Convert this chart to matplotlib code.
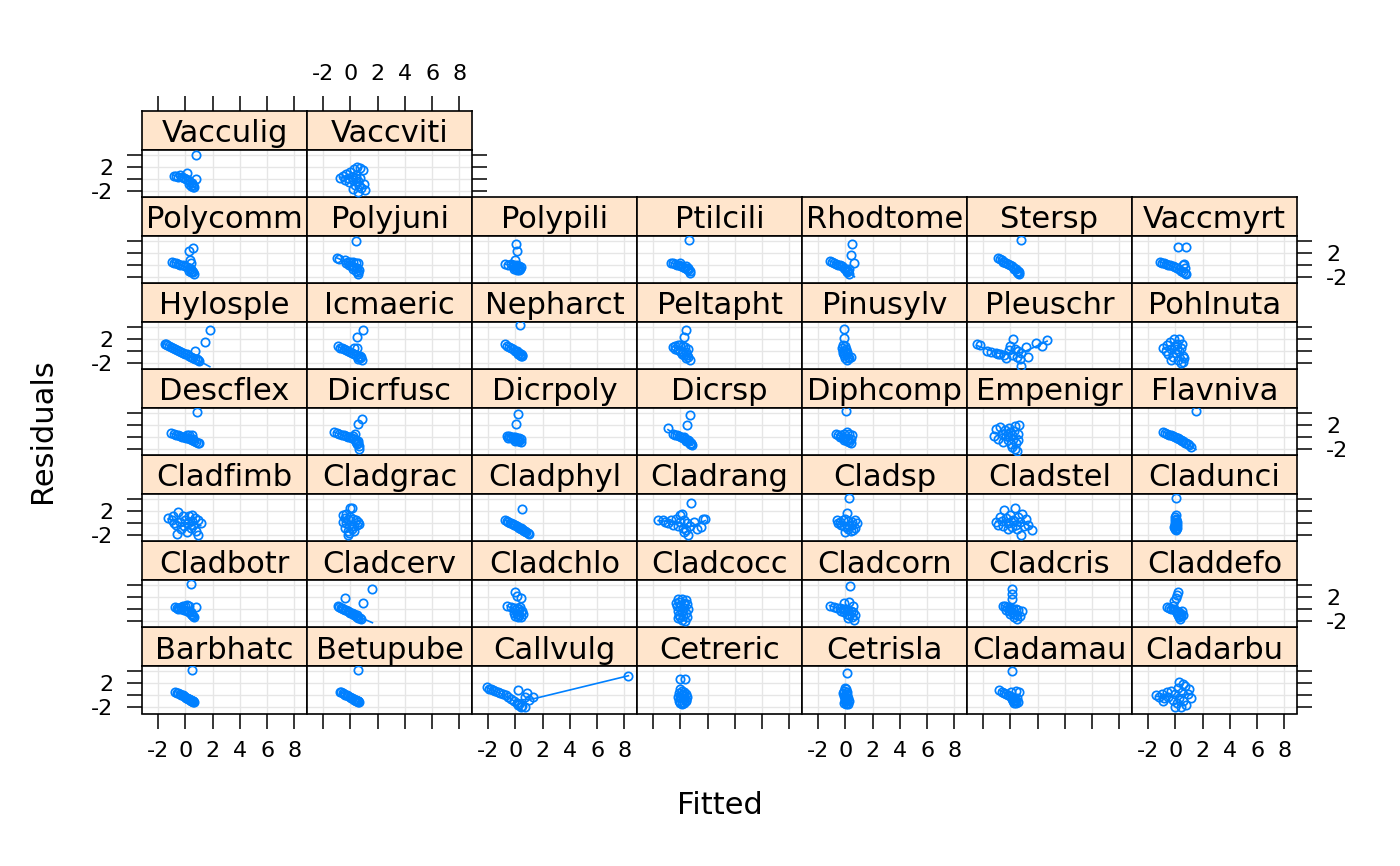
import numpy as np
import matplotlib
matplotlib.use("Agg")
import matplotlib.pyplot as plt

plt.rcParams['font.family'] = ['DejaVu Sans']

# ---------------- data (fitted, residual) per species ----------------
SPECIES = ["Barbhatc", "Betupube", "Callvulg", "Cetreric", "Cetrisla", "Cladamau", "Cladarbu",
           "Cladbotr", "Cladcerv", "Cladchlo", "Cladcocc", "Cladcorn", "Cladcris", "Claddefo",
           "Cladfimb", "Cladgrac", "Cladphyl", "Cladrang", "Cladsp", "Cladstel", "Cladunci",
           "Descflex", "Dicrfusc", "Dicrpoly", "Dicrsp", "Diphcomp", "Empenigr", "Flavniva",
           "Hylosple", "Icmaeric", "Nepharct", "Peltapht", "Pinusylv", "Pleuschr", "Pohlnuta",
           "Polycomm", "Polyjuni", "Polypili", "Ptilcili", "Rhodtome", "Stersp", "Vaccmyrt",
           "Vacculig", "Vaccviti"]

BARBHATC = [(-0.72,0.6),(-0.6,0.48),(-0.5,0.38),(-0.4,0.25),(-0.3,0.12),(-0.2,0.0),(-0.1,-0.12),(0.0,-0.25),(0.08,-0.35),(0.15,-0.45),(0.22,-0.55),(0.3,-0.65),(0.36,-0.75),(0.42,-0.82),(0.48,-0.9),(0.54,-0.98),(0.6,-1.05),(0.64,-1.1),(0.25,-0.62),(0.4,-0.88),(0.5,-1.0),(0.58,-0.95),(0.5,4.3)]
BETUPUBE = [(-0.77,0.64),(-0.65,0.5),(-0.55,0.4),(-0.45,0.28),(-0.35,0.15),(-0.25,0.02),(-0.15,-0.1),(-0.05,-0.22),(0.05,-0.35),(0.15,-0.48),(0.25,-0.6),(0.32,-0.7),(0.4,-0.8),(0.47,-0.9),(0.54,-1.0),(0.6,-1.08),(0.64,-1.14),(0.3,-0.75),(0.45,-0.95),(0.55,-0.85),(0.6,-1.0),(0.56,4.3)]
CALLVULG = [(-2.1,1.35),(-1.95,1.15),(-1.8,1.0),(-1.6,0.85),(-1.45,0.7),(-1.3,0.55),(-1.1,0.4),(-0.9,0.2),(-0.7,0.0),(-0.5,-0.3),(-0.3,-0.6),(-0.1,-0.9),(0.1,-1.2),(0.3,-1.5),(0.5,-1.7),(0.7,-1.95),(0.45,-2.0),(0.2,-1.6),(0.22,0.87),(0.83,0.47),(0.7,-0.2),(1.33,-0.28),(1.0,-0.8),(8.29,3.28)]
CETRERIC = [(0.0,2.77),(0.33,2.77),(-0.05,1.0),(0.1,0.8),(0.3,0.6),(0.45,0.3),(-0.1,0.4),(0.1,0.1),(0.3,-0.1),(0.5,-0.2),(-0.15,-0.3),(0.05,-0.5),(0.25,-0.6),(0.4,-0.8),(-0.1,-0.9),(0.1,-1.1),(0.3,-1.3),(0.15,-1.5),(0.0,-0.2),(0.2,0.3),(0.4,-1.0),(-0.05,-1.3)]
CETRISLA = [(0.1,3.8),(-0.05,1.2),(0.05,1.0),(-0.1,0.8),(0.1,0.6),(-0.15,0.4),(0.05,0.2),(0.15,0.0),(-0.1,-0.1),(0.0,-0.3),(0.2,-0.4),(-0.05,-0.6),(0.1,-0.8),(0.25,-0.9),(0.0,-1.0),(0.15,-1.2),(0.05,-1.4),(0.2,-1.5),(-0.1,-1.2),(0.1,-0.5)]
CLADAMAU = [(0.13,4.03),(-0.81,0.87),(-0.6,0.6),(-0.45,0.45),(-0.3,0.3),(-0.15,0.1),(0.0,-0.1),(0.15,-0.3),(0.25,-0.5),(0.35,-0.7),(0.45,-0.9),(0.55,-1.1),(0.4,-1.3),(0.2,-1.0),(0.1,-0.6),(0.66,0.64),(0.45,0.7),(0.05,0.6),(0.3,-1.2),(0.5,-0.4)]
CLADARBU = [(-1.43,0.0),(-1.2,-0.3),(-1.0,0.2),(-0.8,-0.5),(-0.6,0.5),(-0.5,-0.2),(-0.3,0.8),(-0.2,-0.8),(0.0,0.3),(0.1,-1.3),(0.2,1.2),(0.3,-0.5),(0.4,-1.9),(0.5,0.6),(0.6,-1.0),(0.7,1.6),(0.8,-1.6),(0.9,0.2),(1.0,1.0),(1.14,-0.4),(0.3,2.19),(0.0,-2.0),(-0.9,-0.9),(0.6,1.9)]
CLADBOTR = [(0.44,4.24),(-0.77,0.35),(-0.6,0.3),(-0.45,0.25),(-0.3,0.4),(-0.15,0.5),(0.0,0.6),(0.14,0.8),(0.25,0.5),(0.81,0.46),(-0.5,0.1),(-0.3,0.0),(-0.1,-0.1),(0.1,-0.3),(0.25,-0.5),(0.4,-0.7),(0.5,-0.9),(0.6,-1.1),(0.64,-1.3),(0.3,-0.2),(0.45,-0.4)]
CLADCERV = [(-0.35,1.91),(1.62,3.46),(0.96,1.08),(-0.9,0.52),(-0.8,0.4),(-0.7,0.3),(-0.6,0.2),(-0.5,0.1),(-0.4,-0.05),(-0.3,-0.15),(-0.2,-0.3),(-0.1,-0.4),(0.0,-0.55),(0.1,-0.65),(0.2,-0.8),(0.3,-0.9),(0.4,-1.05),(0.5,-1.2),(0.6,-1.35),(0.7,-1.5),(0.76,-1.59),(0.5,-1.0),(0.3,-0.7)]
CLADCHLO = [(-0.05,2.85),(0.14,2.3),(0.39,1.91),(-0.6,0.52),(-0.3,0.4),(-0.1,0.3),(0.1,0.2),(0.3,0.0),(0.5,-0.2),(0.0,-0.1),(0.2,-0.3),(0.4,-0.5),(-0.1,-0.6),(0.1,-0.8),(0.3,-1.0),(0.45,-1.2),(0.2,-1.3),(0.0,-1.1),(0.35,0.35),(0.55,-0.8)]
CLADCOCC = [(-0.2,1.74),(0.1,1.7),(0.4,1.6),(-0.1,1.3),(0.3,1.1),(0.5,0.9),(-0.25,0.6),(0.0,0.4),(0.3,0.2),(0.55,0.0),(-0.2,-0.2),(0.1,-0.4),(0.4,-0.6),(-0.1,-0.9),(0.2,-1.1),(0.5,-1.3),(-0.15,-1.5),(0.1,-1.7),(0.35,-1.87),(0.0,-1.2),(0.25,0.9),(-0.3,1.0)]
CLADCORN = [(0.35,3.85),(-1.15,0.63),(-0.12,1.0),(0.25,1.2),(0.57,0.63),(-0.84,0.4),(-0.6,0.3),(-0.4,0.2),(-0.2,0.1),(0.0,0.0),(0.2,-0.1),(0.4,-0.3),(0.6,-0.5),(-0.3,-0.3),(-0.1,-0.5),(0.1,-0.7),(0.3,-0.9),(0.5,-1.2),(0.63,-1.7),(0.2,-1.4),(0.73,-0.9)]
CLADCRIS = [(0.1,3.41),(0.13,2.58),(0.1,1.74),(-0.56,0.63),(-0.4,0.5),(-0.25,0.4),(-0.1,0.3),(0.05,0.2),(0.2,0.1),(0.4,0.0),(0.6,-0.1),(0.85,-0.3),(-0.3,-0.1),(-0.1,-0.3),(0.1,-0.5),(0.3,-0.7),(0.5,-0.9),(0.7,-1.1),(0.3,-1.3),(0.5,-1.6),(0.0,-0.8)]
CLADDEFO = [(0.2,2.85),(0.12,2.4),(0.05,1.9),(-0.1,1.4),(-0.59,0.35),(-0.45,0.2),(-0.3,0.1),(-0.15,0.0),(0.0,-0.1),(0.15,-0.3),(0.3,-0.5),(0.45,-0.7),(0.55,-0.9),(0.4,-1.1),(0.3,-1.3),(0.35,-1.6),(0.1,-0.6),(0.2,-1.0),(0.5,-0.3),(-0.2,0.6)]
CLADFIMB = [(-1.26,0.89),(-1.0,0.5),(-0.9,1.2),(-0.7,-0.3),(-0.6,-1.7),(-0.5,1.88),(-0.4,0.3),(-0.3,-1.0),(-0.2,1.2),(-0.1,-0.5),(0.0,0.6),(0.1,-1.5),(0.2,0.0),(0.3,1.3),(0.4,-0.8),(0.5,0.4),(0.52,1.33),(0.6,-0.3),(0.7,0.9),(0.8,-1.2),(0.9,0.5),(0.96,-1.87),(1.13,0.0),(-0.8,0.0)]
CLADGRAC = [(-0.05,2.55),(0.12,2.5),(-0.55,1.33),(-0.3,1.6),(-0.4,0.9),(-0.2,0.7),(0.0,1.1),(0.2,0.8),(0.4,0.5),(0.6,0.2),(-0.5,0.3),(-0.3,0.0),(-0.1,-0.2),(0.1,-0.4),(0.3,-0.5),(0.5,-0.3),(0.64,-0.1),(-0.35,-0.8),(-0.2,-1.2),(-0.1,-1.6),(-0.15,-1.98),(0.1,-1.0),(0.3,-1.3)]
CLADPHYL = [(0.51,2.32),(-0.72,0.5),(-0.6,0.35),(-0.5,0.25),(-0.4,0.1),(-0.3,0.0),(-0.2,-0.12),(-0.1,-0.25),(0.0,-0.35),(0.1,-0.48),(0.2,-0.6),(0.3,-0.75),(0.4,-0.85),(0.5,-1.0),(0.6,-1.1),(0.7,-1.25),(0.8,-1.4),(0.9,-1.55),(1.0,-1.71),(0.45,-0.9),(0.65,-1.2)]
CLADRANG = [(-1.62,0.52),(-1.3,0.52),(-1.1,0.3),(-0.9,0.1),(-0.7,0.5),(-0.5,-0.2),(-0.3,0.8),(-0.2,-0.5),(-0.05,1.35),(0.1,1.63),(0.0,0.2),(0.2,-0.8),(0.3,0.5),(0.41,-1.15),(0.5,0.0),(0.57,-1.98),(0.7,-0.4),(0.82,3.46),(1.0,0.3),(1.2,-0.9),(1.5,-0.6),(1.67,0.69),(1.83,0.8),(0.3,-1.5)]
CLADSP = [(0.26,4.13),(0.16,1.74),(-0.59,0.5),(-0.4,0.3),(-0.2,0.5),(0.0,0.8),(0.2,0.4),(0.5,0.2),(0.7,0.5),(0.88,0.0),(-0.5,0.0),(-0.3,-0.2),(-0.1,-0.4),(0.1,-0.6),(0.3,-0.5),(0.5,-0.3),(0.7,-0.7),(0.2,-1.0),(0.4,-1.2),(0.0,-1.4),(0.6,-1.1)]
CLADSTEL = [(-1.06,0.24),(-0.9,-0.2),(-0.75,1.07),(-0.6,0.4),(-0.5,-0.4),(-0.43,2.19),(-0.3,0.9),(-0.2,0.0),(0.0,1.4),(0.1,-0.6),(0.2,0.6),(0.35,2.57),(0.4,-0.3),(0.5,-0.87),(0.6,1.1),(0.7,0.2),(0.82,-1.98),(0.89,1.63),(1.0,-0.5),(1.14,0.8),(1.3,-0.2),(1.61,-1.15),(-0.2,-0.9),(0.3,0.4)]
CLADUNCI = [(0.04,4.13),(0.04,1.35),(0.0,1.07),(0.05,0.8),(-0.05,0.5),(0.1,0.3),(0.0,0.1),(0.08,-0.1),(-0.05,-0.3),(0.05,-0.5),(0.12,-0.7),(0.0,-0.9),(0.05,-1.15),(-0.08,-0.6),(0.1,-0.2),(0.02,0.6),(0.0,-0.4),(0.06,-1.0)]
DESCFLEX = [(0.88,4.13),(-1.02,0.63),(-0.85,0.5),(-0.7,0.4),(-0.55,0.3),(-0.4,0.2),(-0.25,0.1),(-0.1,0.0),(0.05,-0.1),(0.2,-0.2),(0.35,-0.3),(0.5,-0.45),(0.65,-0.6),(0.8,-0.75),(1.01,-0.98),(0.3,0.3),(0.5,0.3),(0.1,0.3),(0.9,-0.9),(0.6,-0.3)]
DICRFUSC = [(0.83,3.02),(0.56,2.19),(-1.21,0.91),(-1.0,0.7),(-0.8,0.55),(-0.6,0.4),(-0.45,0.3),(-0.3,0.2),(-0.15,0.1),(0.0,0.0),(0.15,-0.1),(0.3,-0.25),(0.34,0.52),(0.45,-0.4),(0.55,-0.6),(0.6,-1.0),(0.64,-1.4),(0.5,-1.2),(0.64,-1.98),(0.4,-0.8),(0.2,0.2)]
DICRPOLY = [(0.19,3.85),(0.07,2.19),(-0.6,0.24),(-0.45,0.15),(-0.3,0.1),(-0.15,0.05),(0.0,0.0),(0.15,-0.1),(0.3,-0.2),(0.4,-0.35),(-0.5,-0.1),(-0.3,-0.2),(-0.1,-0.3),(0.1,-0.45),(0.3,-0.6),(0.4,-0.77),(0.2,-0.7),(0.0,-0.6)]
DICRSP = [(0.73,3.69),(0.51,2.02),(-0.9,1.46),(-0.53,0.52),(-0.4,0.4),(-0.25,0.3),(-0.1,0.15),(0.05,0.0),(0.2,-0.15),(0.35,-0.3),(0.5,-0.5),(0.65,-0.7),(0.8,-0.9),(0.89,-1.31),(0.7,-1.1),(0.6,-0.4),(0.3,0.1),(0.8,-1.2),(0.45,-0.6)]
DIPHCOMP = [(0.04,4.41),(-0.68,0.5),(-0.5,0.4),(-0.3,0.3),(-0.1,0.5),(0.1,0.8),(0.3,0.5),(0.48,0.3),(-0.4,0.0),(-0.2,-0.1),(0.0,-0.2),(0.2,-0.1),(0.4,-0.3),(-0.1,-0.5),(0.1,-0.7),(0.3,-0.8),(0.45,-0.98),(0.2,-0.5)]
EMPENIGR = [(-1.21,0.24),(-1.06,1.35),(-0.9,-0.3),(-0.75,1.63),(-0.6,0.6),(-0.5,-0.8),(-0.4,1.2),(-0.3,0.2),(-0.2,-0.5),(-0.1,1.5),(0.0,0.8),(0.05,-1.2),(0.15,0.3),(0.2,-0.3),(0.3,1.0),(0.35,1.91),(0.35,-1.98),(0.45,-0.9),(0.5,-2.26),(0.55,0.5),(0.67,2.02),(0.6,-0.4),(-0.2,0.5),(0.1,-1.6)]
FLAVNIVA = [(1.51,4.41),(-0.9,0.91),(-0.75,0.75),(-0.6,0.6),(-0.45,0.45),(-0.3,0.3),(-0.15,0.15),(0.0,0.0),(0.15,-0.15),(0.3,-0.3),(0.45,-0.5),(0.6,-0.7),(0.75,-0.9),(0.9,-1.15),(1.0,-1.35),(1.14,-1.7),(0.5,-0.6),(0.8,-1.0),(0.2,-0.2)]
HYLOSPLE = [(1.8,3.46),(1.43,1.52),(0.71,-0.04),(-1.51,1.19),(-1.35,1.0),(-1.2,0.85),(-1.05,0.7),(-0.9,0.55),(-0.75,0.4),(-0.6,0.2),(-0.45,0.05),(-0.3,-0.1),(-0.15,-0.25),(0.0,-0.4),(0.15,-0.55),(0.3,-0.75),(0.45,-0.9),(0.6,-1.1),(0.75,-1.3),(0.9,-1.5),(1.01,-1.7),(0.85,-1.25),(-1.4,1.15)]
ICMAERIC = [(0.95,3.46),(0.51,2.35),(0.51,0.52),(0.3,0.5),(-0.9,0.8),(-0.75,0.6),(-0.6,0.45),(-0.45,0.3),(-0.3,0.15),(-0.15,0.0),(0.0,-0.15),(0.15,-0.35),(0.3,-0.5),(0.45,-0.7),(0.6,-0.9),(0.75,-1.2),(0.88,-1.54),(0.7,-0.8),(0.8,-1.0),(0.6,-1.3)]
NEPHARCT = [(0.34,4.3),(-0.77,1.24),(-0.6,0.9),(-0.45,0.7),(-0.3,0.5),(-0.15,0.3),(0.0,0.1),(0.15,-0.1),(0.3,-0.3),(0.4,-0.5),(0.5,-0.7),(0.51,-0.87),(0.2,-0.4),(0.35,-0.65),(0.45,-0.8),(0.1,0.0)]
PELTAPHT = [(0.42,3.58),(0.26,2.35),(-0.5,0.7),(-0.35,0.9),(-0.2,1.0),(0.0,1.07),(0.2,0.9),(0.35,0.7),(-0.4,0.3),(-0.2,0.2),(0.0,0.0),(0.2,-0.1),(0.4,-0.2),(0.55,0.3),(0.1,-0.4),(0.3,-0.6),(0.5,-0.7),(0.6,-1.0),(0.73,-1.43),(0.45,-1.1)]
PINUSYLV = [(-0.06,3.69),(-0.06,2.19),(-0.2,1.07),(0.0,0.9),(-0.25,0.6),(0.05,0.4),(-0.2,0.1),(0.1,-0.1),(-0.15,-0.3),(0.15,-0.5),(-0.1,-0.7),(0.2,-0.9),(0.0,-1.1),(0.3,-1.2),(0.42,-1.0),(0.1,-1.43),(-0.05,0.0)]
PLEUSCHR = [(-2.47,1.19),(-2.25,1.05),(-1.69,-0.04),(-1.4,-0.2),(-1.06,-0.3),(-0.75,-0.48),(-0.43,-0.7),(-0.28,-1.15),(-0.12,0.13),(0.0,0.8),(0.2,2.02),(0.1,-0.6),(0.35,0.3),(0.5,-0.9),(0.6,0.1),(0.82,-0.37),(0.82,-2.42),(0.7,-1.3),(1.13,0.69),(1.29,-0.98),(1.92,1.35),(2.33,0.8),(2.7,1.91),(-0.9,-0.4)]
POHLNUTA = [(-0.9,0.5),(-0.7,0.0),(-0.6,1.0),(-0.5,-0.5),(-0.4,1.6),(-0.3,0.3),(-0.2,-1.0),(-0.1,2.0),(0.0,0.8),(0.05,-0.3),(0.15,1.2),(0.2,-1.5),(0.25,2.02),(0.3,0.0),(0.4,-1.98),(0.45,0.6),(0.55,-0.8),(0.67,-1.2),(0.5,1.2),(-0.3,-1.5),(0.1,0.4),(0.6,-1.8)]
POLYCOMM = [(0.56,2.91),(0.27,2.35),(0.34,0.91),(0.4,0.3),(-0.97,0.52),(-0.8,0.4),(-0.65,0.3),(-0.5,0.2),(-0.35,0.1),(-0.2,0.0),(-0.05,-0.15),(0.1,-0.3),(0.25,-0.5),(0.4,-0.7),(0.5,-0.9),(0.6,-1.1),(0.64,-1.43),(0.45,-1.2),(0.3,-0.9)]
POLYJUNI = [(0.44,4.02),(-0.97,1.19),(-0.8,1.0),(-0.35,0.8),(-0.2,0.6),(0.0,0.5),(0.2,0.6),(0.4,0.3),(0.6,0.4),(-0.3,0.3),(-0.1,0.1),(0.1,-0.1),(0.3,-0.3),(0.5,-0.5),(0.64,-0.8),(0.4,-1.0),(0.55,-1.2),(0.6,-1.43),(0.2,-0.6)]
POLYPILI = [(0.02,3.46),(0.14,2.35),(0.0,0.91),(-0.77,0.13),(-0.5,0.1),(-0.3,0.24),(-0.1,0.1),(0.1,0.0),(0.3,-0.1),(0.4,-0.3),(-0.2,-0.2),(0.0,-0.4),(0.2,-0.5),(0.35,-0.7),(0.1,-0.87),(-0.1,-0.7),(0.3,-0.85)]
PTILCILI = [(0.64,4.13),(-0.68,0.41),(-0.55,0.3),(-0.4,0.2),(-0.25,0.1),(-0.1,0.0),(0.0,0.35),(0.05,-0.1),(0.2,-0.25),(0.35,-0.4),(0.5,-0.6),(0.6,-0.85),(0.7,-1.05),(0.73,-1.31),(0.4,-0.2),(0.55,-0.4)]
RHODTOME = [(0.48,3.57),(0.42,1.63),(0.67,0.41),(-1.15,0.69),(-1.0,0.55),(-0.85,0.4),(-0.7,0.25),(-0.55,0.1),(-0.4,-0.05),(-0.25,-0.2),(-0.1,-0.4),(0.0,-0.6),(0.1,-0.8),(0.2,-1.0),(0.26,-1.43),(0.3,-0.7),(0.15,-1.2)]
STERSP = [(0.76,4.13),(-0.9,1.24),(-0.75,1.0),(-0.6,0.8),(-0.45,0.55),(-0.3,0.35),(-0.15,0.15),(0.0,0.0),(0.15,-0.2),(0.3,-0.4),(0.45,-0.65),(0.55,-0.9),(0.65,-1.2),(0.67,-1.54),(0.5,-1.1),(0.3,-0.6),(-0.5,0.6),(0.6,-1.35)]
VACCMYRT = [(0.2,3.02),(0.82,3.02),(-1.12,0.52),(-0.95,0.4),(-0.8,0.3),(-0.65,0.2),(-0.5,0.1),(-0.35,0.0),(-0.2,-0.15),(-0.05,-0.3),(0.1,-0.5),(0.25,-0.7),(0.4,-0.9),(0.55,-1.1),(0.7,-1.3),(0.76,-1.43),(0.67,0.24),(0.55,0.0),(0.75,-0.5)]
VACCULIG = [(0.76,3.96),(-0.84,0.57),(-0.7,0.5),(-0.55,0.4),(-0.4,0.6),(-0.25,0.3),(-0.1,0.15),(0.1,0.95),(0.05,0.0),(0.2,-0.2),(0.35,-0.45),(0.5,-0.7),(0.6,-1.0),(0.64,-1.34),(0.76,0.0),(0.45,-1.1),(0.3,-0.8),(0.55,-1.25)]
VACCVITI = [(-0.75,0.19),(-0.5,0.5),(-0.4,-0.1),(-0.3,0.8),(-0.2,0.2),(-0.1,-0.5),(0.0,1.2),(0.1,0.4),(0.2,-0.2),(0.3,1.6),(0.35,-1.0),(0.45,0.7),(0.5,1.94),(0.55,-0.4),(0.6,-2.16),(0.7,1.9),(0.75,0.1),(0.8,-1.5),(0.9,1.5),(1.0,-0.8),(1.1,-1.89),(0.65,-1.2),(0.2,-1.6),(0.4,0.2)]

PANEL_DATA = [BARBHATC, BETUPUBE, CALLVULG, CETRERIC, CETRISLA, CLADAMAU, CLADARBU,
              CLADBOTR, CLADCERV, CLADCHLO, CLADCOCC, CLADCORN, CLADCRIS, CLADDEFO,
              CLADFIMB, CLADGRAC, CLADPHYL, CLADRANG, CLADSP, CLADSTEL, CLADUNCI,
              DESCFLEX, DICRFUSC, DICRPOLY, DICRSP, DIPHCOMP, EMPENIGR, FLAVNIVA,
              HYLOSPLE, ICMAERIC, NEPHARCT, PELTAPHT, PINUSYLV, PLEUSCHR, POHLNUTA,
              POLYCOMM, POLYJUNI, POLYPILI, PTILCILI, RHODTOME, STERSP, VACCMYRT,
              VACCULIG, VACCVITI]

X_TICKS = [-2, 0, 2, 4, 6, 8]
X_TICKLABELS = ["-2", "0", "2", "4", "6", "8"]
Y_TICKS = [-2, 0, 2, 4]
Y_TICKLABELS = ["-2", "", "2", ""]
XLIM = (-3.17, 8.92)
YLIM = (-3.0, 4.83)

# ---------------- style ----------------
BLUE = "#0080ff"
STRIP_BG = "#ffe5cc"
GRID = "#e6e6e6"
W, H = 1400, 866
NCOL = 7
LEFT0 = 142.0
COLW = 165.0
TOP0 = 111.0
ROWH = (713.5 - 111.0) / 7
STRIPH = 39.0
PANELH = ROWH - STRIPH
TICKLEN = 10.8
TICKW = 1.1
TICKFS = 16
STRIPFS = 22
BORDER_LW = 1.2


def loess_fit(x, y, span=2/3, iters=4):
    """Robust local-linear smoother; returns a function evaluating the fit."""
    x = np.asarray(x, float)
    y = np.asarray(y, float)
    m = len(x)
    q = max(int(np.floor(span * m)), 2)
    rw = np.ones(m)

    def fit_at(x0, rw):
        d = np.abs(x - x0)
        h = np.sort(d)[q - 1]
        h = max(h, 1e-6) * 1.000001
        w = np.clip(1 - (d / h) ** 3, 0, None) ** 3
        w = w * rw
        sw = w.sum()
        if sw <= 0:
            return np.nan
        xm = (w * x).sum() / sw
        ym = (w * y).sum() / sw
        sxx = (w * (x - xm) ** 2).sum()
        if sxx < 1e-10 * sw:
            return ym
        b = (w * (x - xm) * (y - ym)).sum() / sxx
        return ym + b * (x0 - xm)

    for _ in range(iters - 1):
        fits = np.array([fit_at(xi, rw) for xi in x])
        res = y - fits
        s = np.median(np.abs(res))
        if s <= 0:
            break
        u = res / (6 * s)
        rw = np.where(np.abs(u) < 1, (1 - u ** 2) ** 2, 0.0)
    return lambda xs: np.array([fit_at(v, rw) for v in xs])


def rect(x0, top, w, h):
    return [x0 / W, 1 - (top + h) / H, w / W, h / H]


fig = plt.figure(figsize=(W / 100, H / 100), dpi=100)

n_panels = len(SPECIES)
nrow = (n_panels - 1) // NCOL + 1
for i, (name, pts) in enumerate(zip(SPECIES, PANEL_DATA)):
    row = i // NCOL          # 0 = bottom row
    col = i % NCOL
    last_in_row = min((row + 1) * NCOL, n_panels) - 1
    strip_top = TOP0 + (nrow - 1 - row) * ROWH
    x0 = LEFT0 + col * COLW

    # strip
    sax = fig.add_axes(rect(x0, strip_top, COLW, STRIPH))
    sax.set_facecolor(STRIP_BG)
    sax.set_xlim(*XLIM)
    sax.set_ylim(0, 1)
    sax.text(0.5, 0.2, name, transform=sax.transAxes, ha="center", va="baseline",
             fontsize=STRIPFS, color="black")
    for sp in sax.spines.values():
        sp.set_linewidth(BORDER_LW)
    sax.set_yticks([])
    if row == nrow - 1:
        sax.set_xticks(X_TICKS)
        sax.xaxis.set_ticks_position("top")
        sax.tick_params(axis="x", direction="out", length=TICKLEN, width=TICKW,
                        labelsize=TICKFS, pad=9, top=True, bottom=False,
                        labeltop=(col % 2 == 1), labelbottom=False)
        sax.set_xticklabels(X_TICKLABELS)
    else:
        sax.set_xticks([])

    # panel
    ax = fig.add_axes(rect(x0, strip_top + STRIPH, COLW, PANELH))
    ax.set_xlim(*XLIM)
    ax.set_ylim(*YLIM)
    for v in X_TICKS:
        ax.axvline(v, color=GRID, lw=1.0, zorder=0)
    for hv in Y_TICKS:
        ax.axhline(hv, color=GRID, lw=1.0, zorder=0)
    px = [p[0] for p in pts]
    py = [p[1] for p in pts]
    ax.plot(px, py, linestyle="none", marker="o", ms=6.0, mfc="none",
            mec=BLUE, mew=1.25, zorder=3)
    smooth = loess_fit(px, py)
    gx = np.unique(px)
    ax.plot(gx, smooth(gx), color=BLUE, lw=1.2, zorder=4)
    for sp in ax.spines.values():
        sp.set_linewidth(BORDER_LW)

    # x axis (bottom row only)
    if row == 0:
        ax.set_xticks(X_TICKS)
        ax.set_xticklabels(X_TICKLABELS)
        ax.tick_params(axis="x", direction="out", length=TICKLEN, width=TICKW,
                       labelsize=TICKFS, pad=9, bottom=True, top=False,
                       labelbottom=(col % 2 == 0))
    else:
        ax.set_xticks([])

    # y axis
    left_tick = (col == 0)
    right_tick = (i == last_in_row)
    if left_tick or right_tick:
        ax.set_yticks(Y_TICKS)
        ax.set_yticklabels(Y_TICKLABELS)
        ax.tick_params(axis="y", direction="out", length=TICKLEN, width=TICKW,
                       labelsize=TICKFS, pad=10,
                       left=left_tick, right=right_tick,
                       labelleft=(left_tick and row % 2 == 0),
                       labelright=(right_tick and row % 2 == 1))
    else:
        ax.set_yticks([])

fig.text(719.5 / W, 1 - 805 / H, "Fitted", ha="center", va="center", fontsize=22)
fig.text(43 / W, 1 - 431 / H, "Residuals", ha="center", va="center",
         rotation=90, fontsize=22)

fig.savefig("out.png", dpi=100)
